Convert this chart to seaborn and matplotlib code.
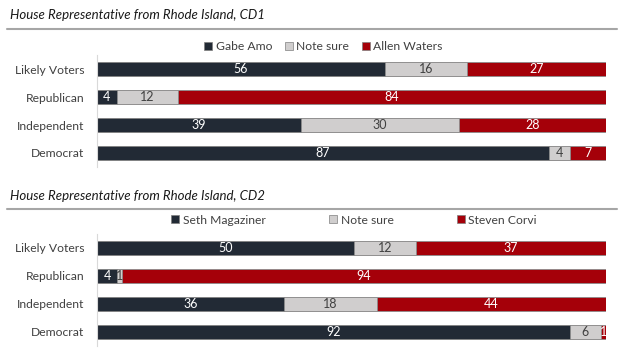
import matplotlib
matplotlib.use("Agg")
import matplotlib.pyplot as plt
import numpy as np
import pandas as pd
import seaborn as sns
from matplotlib.lines import Line2D

# Data
groups = ["Likely Voters", "Republican", "Independent", "Democrat"]

cd1_title = "House Representative from Rhode Island, CD1"
cd1_names = ["Gabe Amo", "Note sure", "Allen Waters"]
cd1_dem = [56, 4, 39, 87]
cd1_unsure = [16, 12, 30, 4]
cd1_rep = [27, 84, 28, 7]

cd2_title = "House Representative from Rhode Island, CD2"
cd2_names = ["Seth Magaziner", "Note sure", "Steven Corvi"]
cd2_dem = [50, 4, 36, 92]
cd2_unsure = [12, 1, 18, 6]
cd2_rep = [37, 94, 44, 1]

colors = ["#222a35", "#d0cece", "#a50009"]
text_colors = ["white", "#404040", "white"]

sns.set_theme(style="white")
plt.rcParams["font.family"] = ["Lato", "DejaVu Sans"]

fig = plt.figure(figsize=(6.24, 3.52), dpi=100)


def draw_panel(ax, title, names, series, title_y, rule_y, legend_x, legend_y, colspace):
    df = pd.DataFrame(dict(zip(names, series)), index=groups)
    # 100% stacked, like the Excel original
    pct = df.div(df.sum(axis=1), axis=0) * 100
    cum = pct.cumsum(axis=1)

    # draw the cumulative totals back to front
    for i in reversed(range(len(names))):
        sns.barplot(x=cum.iloc[:, i].values, y=groups, orient="h", color=colors[i],
                    width=0.52, edgecolor="#8c8c8c", linewidth=0.6, saturation=1, ax=ax)

    for r, g in enumerate(groups):
        for i, n in enumerate(names):
            start = cum.iloc[r, i] - pct.iloc[r, i]
            ax.text(start + pct.iloc[r, i] / 2, r, str(df.loc[g, n]), ha="center",
                    va="center", color=text_colors[i], fontsize=9)

    ax.set_xlim(0, 100)
    ax.set_ylim(3.5, -0.5)
    ax.set_xlabel("")
    ax.set_ylabel("")
    ax.set_xticks([])
    ax.set_yticks(range(len(groups)))
    ax.set_yticklabels(groups, fontsize=8.7, color="#404040")
    ax.set_yticks(np.arange(-0.5, 4, 1), minor=True)
    ax.tick_params(axis="y", which="major", length=0, pad=9)
    ax.tick_params(axis="y", which="minor", length=5, color="#d9d9d9", width=0.8)
    for s in ["top", "right", "bottom"]:
        ax.spines[s].set_visible(False)
    ax.spines["left"].set_color("#d9d9d9")
    ax.spines["left"].set_linewidth(0.8)

    fig.text(0.016, title_y, title, fontsize=9.5, style="italic", color="#1a1a1a", va="center")
    fig.add_artist(Line2D([0.011, 0.989], [rule_y, rule_y], color="#a6a6a6", linewidth=1.5))

    handles = [Line2D([], [], marker="s", linestyle="none", markersize=6,
                      markerfacecolor=c, markeredgecolor="#7f7f7f", markeredgewidth=0.5)
               for c in colors]
    fig.legend(handles, names, loc="center", bbox_to_anchor=(legend_x, legend_y), ncol=3,
               frameon=False, fontsize=8.7, handlelength=0.7, handletextpad=0.3,
               columnspacing=colspace, labelcolor="#404040")


ax1 = fig.add_axes([0.155, 1 - 167 / 352, 0.816, 112 / 352])
draw_panel(ax1, cd1_title, cd1_names, [cd1_dem, cd1_unsure, cd1_rep],
           1 - 15 / 352, 1 - 29 / 352, 0.518, 1 - 47 / 352, 1.0)

ax2 = fig.add_axes([0.155, 1 - 346 / 352, 0.816, 112 / 352])
draw_panel(ax2, cd2_title, cd2_names, [cd2_dem, cd2_unsure, cd2_rep],
           1 - 196 / 352, 1 - 209 / 352, 0.567, 1 - 220 / 352, 5.2)

fig.savefig("out.png", dpi=100)
